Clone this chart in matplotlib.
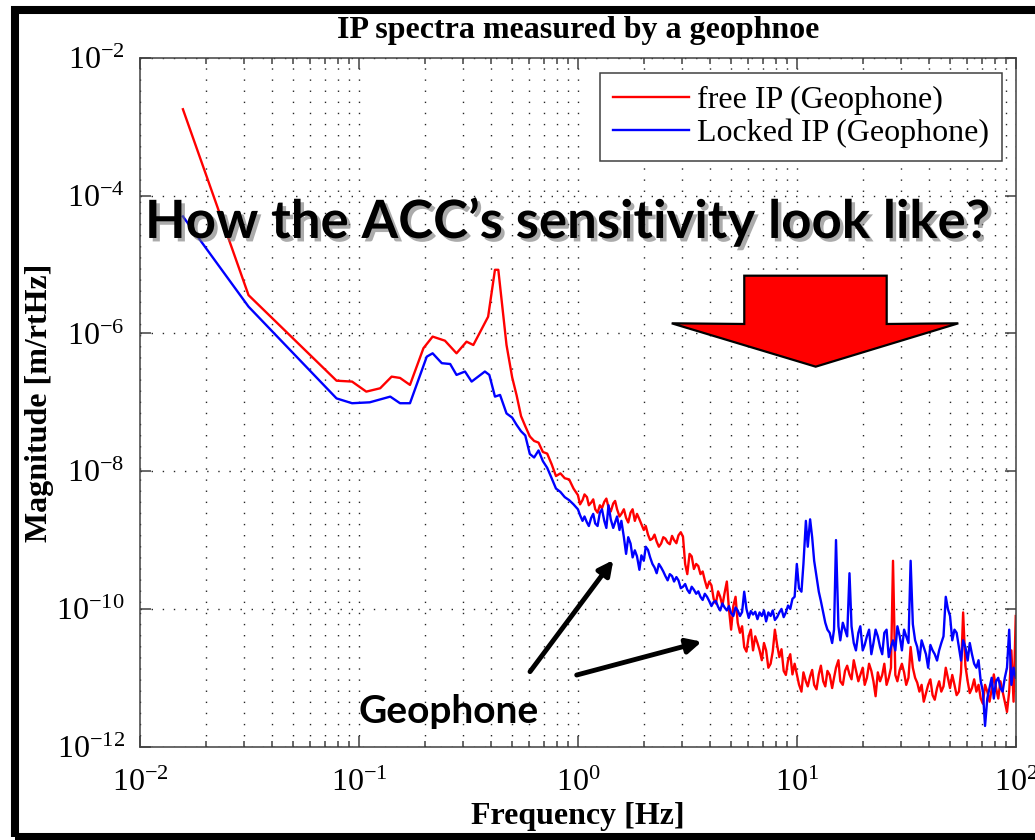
import numpy as np
import matplotlib
matplotlib.use("Agg")
import matplotlib.pyplot as plt
import matplotlib.ticker as ticker
import matplotlib.patheffects as pe
from matplotlib.patches import Polygon, Rectangle

# Times-like look of the MATLAB export
plt.rcParams["font.family"] = "Liberation Serif"
plt.rcParams["mathtext.fontset"] = "custom"
plt.rcParams["mathtext.rm"] = "Liberation Serif"
plt.rcParams["mathtext.it"] = "Liberation Serif:italic"
plt.rcParams["mathtext.bf"] = "Liberation Serif:bold"

# ---- data ----
# low frequency part (below 0.5 Hz)
free_lf_freq = [0.0157, 0.0313, 0.079, 0.093, 0.108, 0.125, 0.141, 0.154, 0.171, 0.197,
                0.217, 0.247, 0.279, 0.310, 0.333, 0.389, 0.418, 0.433, 0.472]
free_lf_mag = [1.8e-3, 3.6e-6, 2.06e-7, 2.0e-7, 1.43e-7, 1.6e-7, 2.36e-7, 2.26e-7, 1.79e-7, 6.1e-7,
               9.0e-7, 7.85e-7, 5.15e-7, 7.6e-7, 6.8e-7, 1.75e-6, 8.4e-6, 8.4e-6, 6.8e-7]

locked_lf_freq = [0.0157, 0.0313, 0.079, 0.093, 0.112, 0.139, 0.154, 0.171, 0.204, 0.217,
                  0.239, 0.261, 0.279, 0.305, 0.327, 0.376, 0.394, 0.418, 0.441, 0.472]
locked_lf_mag = [5.0e-5, 2.45e-6, 1.14e-7, 9.7e-8, 1.0e-7, 1.21e-7, 9.7e-8, 9.7e-8, 4.6e-7, 5.15e-7,
                 3.7e-7, 3.6e-7, 2.5e-7, 2.8e-7, 2.0e-7, 2.8e-7, 2.5e-7, 1.21e-7, 1.28e-7, 6.9e-8]

# noisy part (0.5 - 100 Hz), shared frequency grid
hf_freq = [0.501, 0.525, 0.550, 0.575, 0.603, 0.631, 0.661, 0.692, 0.724, 0.759,
           0.794, 0.832, 0.871, 0.912, 0.955,
           1.00, 1.05, 1.10, 1.15, 1.20, 1.26, 1.32, 1.38, 1.45, 1.51,
           1.58, 1.66, 1.74, 1.82, 1.91, 2.00, 2.09, 2.19, 2.29, 2.40,
           2.51, 2.63, 2.75, 2.88, 3.02, 3.16, 3.31, 3.47, 3.63, 3.80,
           3.98, 4.17, 4.37, 4.57, 4.79, 5.01, 5.25, 5.50, 5.75, 6.03,
           6.31, 6.61, 6.92, 7.24, 7.59, 7.94, 8.32, 8.71, 9.12, 9.55,
           10.0, 10.5, 11.0, 11.5, 12.0, 12.6, 13.2, 13.8, 14.5, 15.1,
           15.8, 16.6, 17.4, 18.2, 19.1, 20.0, 20.9, 21.9, 22.9, 24.0,
           25.1, 26.3, 27.5, 28.8, 30.2, 31.6, 33.1, 34.7, 36.3, 38.0,
           39.8, 41.7, 43.7, 45.7, 47.9, 50.1, 52.5, 55.0, 57.5, 60.3,
           63.1, 66.1, 69.2, 72.4, 75.9, 79.4, 83.2, 87.1, 91.2, 95.5,
           100.0]

free_hf_mag = [2.3e-7, 1.26e-7, 6.3e-8, 4.5e-8, 3.2e-8, 2.75e-8, 2.6e-8, 1.9e-8, 1.8e-8, 1.26e-8,
               8.5e-9, 9.3e-9, 7.9e-9, 7.6e-9, 5.6e-9,
               4.5e-9, 3.8e-9, 4.2e-9, 3.5e-9, 2.8e-9, 3.2e-9, 3.6e-9, 3.0e-9, 3.4e-9, 2.8e-9,
               2.4e-9, 2.1e-9, 2.5e-9, 1.9e-9, 2.0e-9, 1.4e-9, 1.2e-9, 1.05e-9, 9.5e-10, 8.9e-10,
               1.05e-9, 8.7e-10, 1.0e-9, 1.17e-9, 1.12e-9, 3.2e-10, 5.8e-10, 4.5e-10, 3.2e-10, 2.6e-10,
               2.5e-10, 1.4e-10, 1.8e-10, 1.12e-10, 2.5e-10, 5.0e-11, 1.5e-10, 4.5e-11, 2.8e-11, 4.0e-11,
               2.5e-11, 3.2e-11, 1.8e-11, 2.5e-11, 1.6e-11, 5.0e-11, 2.0e-11, 1.26e-11, 1.8e-11, 1.12e-11,
               1.12e-11, 6.3e-12, 8.9e-12, 1.05e-11, 7.9e-12, 1.12e-11, 8.9e-12, 1.26e-11, 7.1e-12, 1.4e-11,
               8.9e-12, 1.26e-11, 1.12e-11, 1.8e-11, 8.9e-12, 1.4e-11, 1.0e-11, 1.26e-11, 5.4e-12, 8.9e-12,
               1.6e-11, 1.0e-11, 5.0e-10, 8.9e-12, 1.6e-11, 7.9e-12, 2.8e-11, 1.0e-11, 6.3e-12, 4.5e-12,
               7.9e-12, 5.6e-12, 7.1e-12, 6.3e-12, 1.4e-11, 7.1e-12, 7.9e-12, 6.3e-12, 8.9e-11, 8.9e-12,
               7.1e-12, 6.3e-12, 5.0e-12, 7.9e-12, 4.5e-12, 1.12e-11, 5.0e-12, 6.3e-12, 3.2e-12, 2.5e-11,
               7.9e-11]

locked_hf_mag = [6.0e-8, 4.7e-8, 3.8e-8, 3.3e-8, 1.78e-8, 1.58e-8, 2.0e-8, 1.4e-8, 1.12e-8, 7.9e-9,
                 5.6e-9, 5.0e-9, 4.2e-9, 3.8e-9, 3.3e-9,
                 2.8e-9, 1.9e-9, 1.8e-9, 2.1e-9, 1.74e-9, 2.5e-9, 1.9e-9, 3.2e-9, 1.5e-9, 2.2e-9,
                 1.9e-9, 6.3e-10, 8.9e-10, 7.1e-10, 3.7e-10, 5.0e-10, 7.2e-10, 4.5e-10, 3.3e-10, 4.0e-10,
                 3.0e-10, 3.2e-10, 2.5e-10, 2.6e-10, 2.1e-10, 1.9e-10, 2.1e-10, 1.66e-10, 1.5e-10, 1.66e-10,
                 1.3e-10, 1.26e-10, 1.07e-10, 1.2e-10, 9.5e-11, 8.7e-11, 1.05e-10, 7.9e-11, 1.78e-10, 7.4e-11,
                 8.3e-11, 7.1e-11, 7.9e-11, 6.6e-11, 7.9e-11, 6.9e-11, 8.9e-11, 7.6e-11, 1.12e-10, 1.4e-10,
                 4.5e-10, 1.78e-10, 1.9e-9, 2.0e-9, 5.0e-10, 1.78e-10, 8.9e-11, 5.0e-11, 3.2e-11, 1.0e-9,
                 3.5e-11, 5.0e-11, 3.3e-10, 3.2e-11, 4.5e-11, 2.5e-11, 4.0e-11, 2.2e-11, 5.0e-11, 2.8e-11,
                 4.5e-11, 2.0e-11, 3.5e-11, 5.6e-11, 2.5e-11, 4.0e-11, 5.0e-10, 3.5e-11, 1.78e-11, 2.8e-11,
                 1.4e-11, 2.5e-11, 1.78e-11, 3.2e-11, 1.5e-10, 7.9e-11, 5.0e-11, 2.8e-11, 3.5e-11, 1.78e-11,
                 2.2e-11, 1.4e-11, 8.9e-12, 2.0e-12, 7.1e-12, 5.0e-12, 1.0e-11, 6.3e-12, 1.4e-11, 7.9e-12,
                 1.0e-11]

# extra in-between samples (1 - 100 Hz) that give the noisy band its thickness
mid_freq = [1.023, 1.072, 1.122, 1.175, 1.230, 1.288, 1.349, 1.413, 1.479, 1.549,
            1.622, 1.698, 1.778, 1.862, 1.950, 2.042, 2.138, 2.239, 2.344, 2.455,
            2.570, 2.692, 2.818, 2.951, 3.090, 3.236, 3.388, 3.548, 3.715, 3.890,
            4.074, 4.266, 4.467, 4.677, 4.898, 5.129, 5.370, 5.623, 5.888, 6.166,
            6.457, 6.761, 7.079, 7.413, 7.762, 8.128, 8.511, 8.913, 9.333, 9.772,
            10.23, 10.72, 11.22, 11.75, 12.30, 12.88, 13.49, 14.13, 14.79, 15.49,
            16.22, 16.98, 17.78, 18.62, 19.50, 20.42, 21.38, 22.39, 23.44, 24.55,
            25.70, 26.92, 28.18, 29.51, 30.90, 32.36, 33.88, 35.48, 37.15, 38.90,
            40.74, 42.66, 44.67, 46.77, 48.98, 51.29, 53.70, 56.23, 58.88, 61.66,
            64.57, 67.61, 70.79, 74.13, 77.62, 81.28, 85.11, 89.13, 93.33, 97.72]

free_mid_mag = [3.3e-9, 4.6e-9, 3.2e-9, 3.9e-9, 2.5e-9, 2.9e-9, 4.0e-9, 2.6e-9, 3.7e-9, 2.2e-9,
                2.8e-9, 1.8e-9, 2.8e-9, 2.4e-9, 1.7e-9, 1.6e-9, 1.0e-9, 1.2e-9, 8.0e-10, 1.1e-9,
                9.2e-10, 1.15e-9, 9.0e-10, 1.3e-9, 4.5e-10, 6.3e-10, 3.8e-10, 4.2e-10, 3.5e-10, 2.0e-10,
                2.2e-10, 1.2e-10, 1.5e-10, 1.7e-10, 1.0e-10, 1.1e-10, 6.3e-11, 5.6e-11, 2.4e-11, 5.0e-11,
                4.0e-11, 2.5e-11, 3.2e-11, 1.4e-11, 2.4e-11, 3.0e-11, 2.6e-11, 1.1e-11, 2.2e-11, 1.6e-11,
                8.0e-12, 1.2e-11, 7.5e-12, 1.3e-11, 6.8e-12, 1.5e-11, 7.5e-12, 1.1e-11, 1.0e-11, 1.8e-11,
                7.9e-12, 1.5e-11, 9.5e-12, 1.3e-11, 1.1e-11, 7.9e-12, 1.6e-11, 8.9e-12, 1.2e-11, 1.1e-11,
                7.9e-12, 1.4e-11, 1.1e-11, 1.3e-11, 1.2e-11, 1.0e-11, 1.4e-11, 8.5e-12, 7.9e-12, 6.0e-12,
                9.5e-12, 4.8e-12, 8.9e-12, 7.5e-12, 1.0e-11, 1.1e-11, 5.6e-12, 1.2e-11, 1.5e-11, 6.0e-12,
                9.5e-12, 7.9e-12, 4.2e-12, 6.3e-12, 6.8e-12, 7.1e-12, 8.9e-12, 4.5e-12, 6.3e-12, 4.5e-12]

locked_mid_mag = [2.3e-9, 2.2e-9, 1.6e-9, 2.4e-9, 1.6e-9, 2.8e-9, 1.5e-9, 2.0e-9, 1.8e-9, 1.4e-9,
                  1.1e-9, 1.1e-9, 5.6e-10, 5.8e-10, 6.0e-10, 8.0e-10, 5.6e-10, 4.0e-10, 4.5e-10, 3.5e-10,
                  2.6e-10, 3.0e-10, 2.9e-10, 2.0e-10, 2.3e-10, 1.7e-10, 1.9e-10, 1.8e-10, 1.35e-10, 1.5e-10,
                  1.1e-10, 1.3e-10, 9.5e-11, 1.05e-10, 1.1e-10, 7.9e-11, 9.5e-11, 9.0e-11, 1.0e-10, 9.3e-11,
                  9.1e-11, 8.9e-11, 9.5e-11, 8.9e-11, 9.5e-11, 7.6e-11, 1.0e-10, 8.9e-11, 1.0e-10, 1.5e-10,
                  2.0e-10, 4.5e-10, 8.0e-10, 1.1e-9, 3.0e-10, 1.3e-10, 6.3e-11, 4.5e-11, 5.0e-11, 5.6e-11,
                  6.3e-11, 4.0e-11, 5.6e-11, 2.5e-11, 5.6e-11, 3.0e-11, 5.0e-11, 3.2e-11, 4.0e-11, 2.2e-11,
                  5.0e-11, 2.8e-11, 2.5e-11, 4.0e-11, 5.0e-11, 3.2e-11, 6.0e-11, 2.8e-11, 3.5e-11, 2.2e-11,
                  3.0e-11, 2.2e-11, 2.5e-11, 4.0e-11, 1.0e-10, 3.5e-11, 4.5e-11, 1.78e-11, 2.8e-11, 3.2e-11,
                  1.6e-11, 1.8e-11, 6.3e-12, 5.0e-12, 1.0e-11, 8.9e-12, 7.1e-12, 1.0e-11, 5.0e-11, 1.4e-11]


def join(*parts):
    f = np.concatenate([p[0] for p in parts])
    m = np.concatenate([p[1] for p in parts])
    order = np.argsort(f)
    return f[order], m[order]


free_freq, free_mag = join((free_lf_freq, free_lf_mag), (hf_freq, free_hf_mag),
                           (mid_freq, free_mid_mag))
locked_freq, locked_mag = join((locked_lf_freq, locked_lf_mag), (hf_freq, locked_hf_mag),
                               (mid_freq, locked_mid_mag))

y_ticks = [1e-12, 1e-10, 1e-8, 1e-6, 1e-4, 1e-2]

fig = plt.figure(figsize=(10.35, 8.4), dpi=100)
ax = fig.add_axes([0.1353, 0.1111, 0.8461, 0.8199])

ax.loglog(free_freq, free_mag, color="red", lw=1.7, label="free IP (Geophone)")
ax.loglog(locked_freq, locked_mag, color="blue", lw=1.7, label="Locked IP (Geophone)")

ax.set_xlim(1e-2, 1e2)
ax.set_ylim(1e-12, 1e-2)
ax.set_yticks(y_ticks)
ax.yaxis.set_minor_locator(ticker.NullLocator())
ax.xaxis.set_minor_locator(ticker.LogLocator(base=10, subs=np.arange(2, 10)))
ax.xaxis.set_minor_formatter(ticker.NullFormatter())

dots = (0, (1, 7))
ax.grid(True, which="major", axis="both", ls=dots, lw=1, color="0.15")
ax.grid(True, which="minor", axis="x", ls=dots, lw=1, color="0.15")

ax.tick_params(which="both", direction="in", top=True, right=True, color="0.25", width=1.1)
ax.tick_params(which="major", length=8, labelsize=23)
ax.tick_params(which="minor", length=4)
ax.tick_params(axis="x", which="major", pad=16)
ax.tick_params(axis="y", which="major", pad=11)
for s in ax.spines.values():
    s.set_color("0.25")
    s.set_linewidth(1.1)

ax.set_title("IP spectra measured by a geophnoe", fontsize=23, fontweight="bold", pad=14.5)
ax.set_xlabel("Frequency [Hz]", fontsize=23, fontweight="bold", labelpad=3)
ax.set_ylabel("Magnitude [m/rtHz]", fontsize=23, fontweight="bold", labelpad=2)

leg = ax.legend(loc="upper right", bbox_to_anchor=(0.9844, 0.9782), borderaxespad=0,
                fontsize=23, fancybox=False, framealpha=1, edgecolor="0.25",
                handlelength=2.4, handletextpad=0.25, borderpad=0.4, labelspacing=0.1)
leg.get_frame().set_linewidth(1.1)

# ---- slide overlay ----
shadow = [pe.SimplePatchShadow(offset=(2.5, -2.5), shadow_rgbFace="0.45", alpha=0.6), pe.Normal()]
fig.text(0.1401, 0.7167, "How the ACC\u2019s sensitivity look like?", family="Lato",
         fontweight="bold", fontsize=38, color="black", va="baseline", ha="left",
         path_effects=shadow, zorder=5)
fig.text(0.3459, 0.1393, "Geophone", family="Lato", fontweight="bold", fontsize=28,
         color="black", va="baseline", ha="left", zorder=5)

arrow_kw = dict(arrowstyle="-|>", color="black", lw=3.5, mutation_scale=22, shrinkA=0, shrinkB=0)
ax.annotate("", xy=(0.5926, 0.3333), xytext=(0.5121, 0.2004), xycoords="figure fraction",
            textcoords="figure fraction", arrowprops=arrow_kw)
ax.annotate("", xy=(0.6780, 0.2361), xytext=(0.5572, 0.1964), xycoords="figure fraction",
            textcoords="figure fraction", arrowprops=arrow_kw)

big_arrow = Polygon([(0.7191, 0.6718), (0.8567, 0.6718), (0.8567, 0.6143), (0.9259, 0.6151),
                     (0.7881, 0.5635), (0.6490, 0.6151), (0.7191, 0.6143)],
                    closed=True, facecolor="red", edgecolor="black", lw=1.6,
                    transform=fig.transFigure, zorder=4)
fig.add_artist(big_arrow)

# black slide frame
frame = Rectangle((0.01449, 0.00357), 0.9952, 0.9845, fill=False, edgecolor="black",
                  lw=5.8, transform=fig.transFigure, clip_on=False, zorder=6)
fig.add_artist(frame)

fig.savefig("out.png", dpi=100)
